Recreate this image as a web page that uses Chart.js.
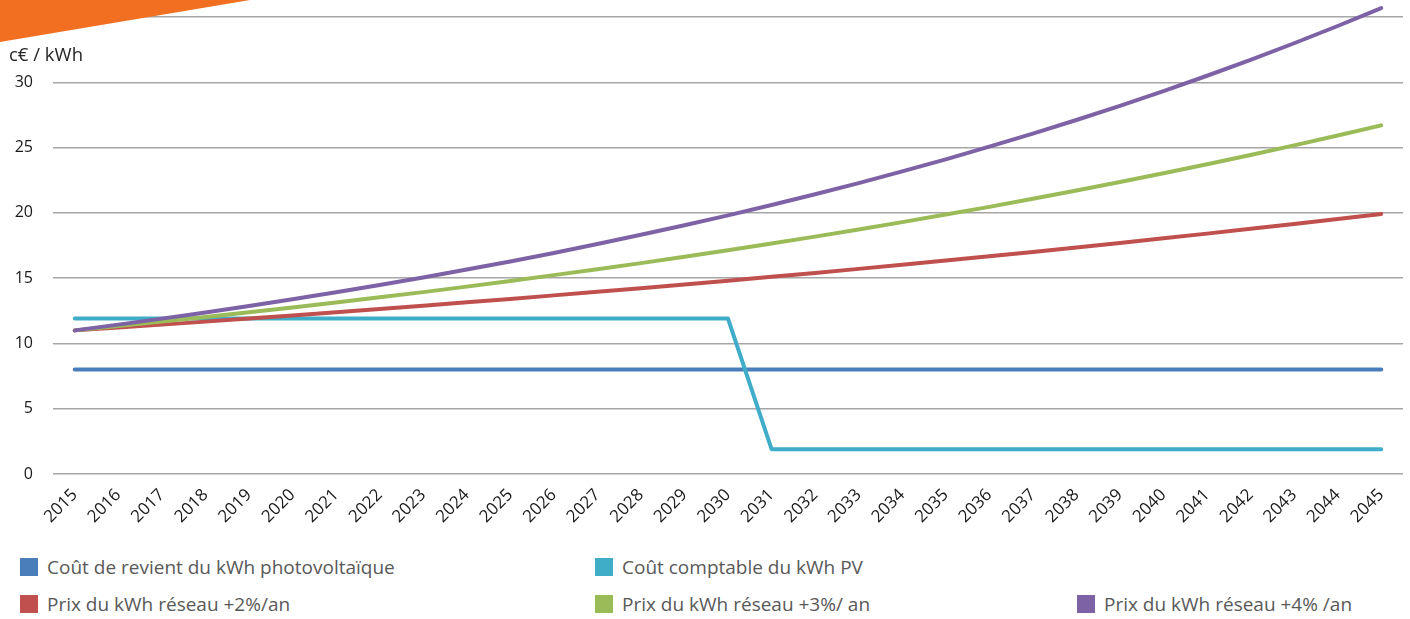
<!DOCTYPE html>
<html>
<head>
<meta charset="utf-8">
<script src="https://cdn.jsdelivr.net/npm/chart.js@4"></script>
<style>
  body { margin: 0; background: #fff; font-family: "Open Sans", "Noto Sans", sans-serif; }
  #wrap { position: relative; width: 1410px; height: 619px; overflow: hidden; }
  #box { position: absolute; left: 0; top: 0; width: 1410px; height: 531px; }
  #unit { position: absolute; left: 9px; top: 42px; font-size: 18.5px; color: #262626; line-height: 24px; }
  .leg { position: absolute; font-size: 19px; color: #595959; white-space: nowrap; line-height: 22px; }
  .leg i { position: absolute; left: -27px; top: 2px; width: 18px; height: 18px; }
</style>
</head>
<body>
<div id="wrap">
  <div id="box"><canvas id="myChart"></canvas></div>
  <div id="unit">c€ / kWh</div>
  <div id="legend"></div>
</div>
<script>
const annees = ['2015','2016','2017','2018','2019','2020','2021','2022','2023','2024','2025','2026','2027','2028','2029','2030',
  '2031','2032','2033','2034','2035','2036','2037','2038','2039','2040','2041','2042','2043','2044','2045'];

const coutRevient = [8,8,8,8,8,8,8,8,8,8,8,8,8,8,8,8,8,8,8,8,8,8,8,8,8,8,8,8,8,8,8];
const coutComptable = [11.9,11.9,11.9,11.9,11.9,11.9,11.9,11.9,11.9,11.9,11.9,11.9,11.9,11.9,11.9,11.9,
  1.9,1.9,1.9,1.9,1.9,1.9,1.9,1.9,1.9,1.9,1.9,1.9,1.9,1.9,1.9];
const reseau2 = [11.00,11.22,11.44,11.67,11.91,12.14,12.39,12.64,12.89,13.15,13.41,13.68,13.95,14.23,14.51,14.80,
  15.10,15.40,15.71,16.02,16.35,16.67,17.01,17.35,17.69,18.05,18.41,18.78,19.15,19.53,19.92];
const reseau3 = [11.00,11.33,11.67,12.02,12.38,12.75,13.13,13.53,13.93,14.35,14.78,15.23,15.68,16.15,16.64,17.14,
  17.65,18.18,18.73,19.29,19.87,20.46,21.08,21.71,22.36,23.03,23.72,24.43,25.17,25.92,26.70];
const reseau4 = [11.00,11.44,11.90,12.37,12.87,13.38,13.92,14.48,15.05,15.66,16.28,16.93,17.61,18.32,19.05,19.81,
  20.60,21.43,22.28,23.18,24.10,25.07,26.07,27.11,28.20,29.32,30.50,31.72,32.99,34.31,35.68];

const yTicks = [0, 5, 10, 15, 20, 25, 30, 35];

const noms = ['Coût de revient du kWh photovoltaïque', 'Coût comptable du kWh PV', 'Prix du kWh réseau +2%/an',
  'Prix du kWh réseau +3%/ an', 'Prix du kWh réseau +4% /an'];
const couleurs = ['#4a7ebb', '#3fadc8', '#c0504d', '#9bbb59', '#7d62a6'];

// position des entrées de légende (x du texte, y)
const legPos = [[47, 556], [622, 556], [47, 593], [622, 593], [1104, 593]];

const series = [coutRevient, coutComptable, reseau2, reseau3, reseau4];

const datasets = series.map(function (d, i) {
  return {
    label: noms[i],
    data: d,
    borderColor: couleurs[i],
    backgroundColor: couleurs[i],
    borderWidth: 4,
    borderCapStyle: 'round',
    borderJoinStyle: 'round',
    pointRadius: 0,
    tension: 0,
    clip: 20,
    order: 5 - i
  };
});

// triangle orange en haut à gauche
const coin = {
  id: 'coin',
  afterDraw(chart) {
    const c = chart.ctx;
    c.save();
    c.fillStyle = '#f26f21';
    c.beginPath();
    c.moveTo(0, 0);
    c.lineTo(250, 0);
    c.lineTo(0, 42);
    c.closePath();
    c.fill();
    c.restore();
  }
};

const ctx = document.getElementById('myChart').getContext('2d');
new Chart(ctx, {
  type: 'line',
  data: { labels: annees, datasets: datasets },
  options: {
    responsive: true,
    maintainAspectRatio: false,
    animation: false,
    layout: { autoPadding: false, padding: { left: 10, right: 7, top: 17, bottom: 0 } },
    plugins: { legend: { display: false }, tooltip: { enabled: false } },
    scales: {
      x: {
        offset: true,
        grid: { display: false },
        border: { display: false },
        afterFit(axis) { axis.height = 57; axis.paddingLeft = 0; axis.paddingRight = 0; },
        ticks: {
          autoSkip: false,
          maxRotation: 45,
          minRotation: 45,
          color: '#1a1a1a',
          font: { family: 'Open Sans', size: 17 }
        }
      },
      y: {
        min: 0,
        max: 35,
        afterBuildTicks(axis) { axis.ticks = yTicks.map(v => ({ value: v })); },
        afterFit(axis) { axis.width = 43; axis.paddingTop = 0; axis.paddingBottom = 0; },
        grid: { color: '#a6a6a6', lineWidth: 1.5, drawTicks: false },
        border: { display: false },
        ticks: {
          padding: 20,
          color: '#1a1a1a',
          font: { family: 'Open Sans', size: 16 }
        }
      }
    }
  },
  plugins: [coin]
});

const leg = document.getElementById('legend');
noms.forEach(function (n, i) {
  const d = document.createElement('div');
  d.className = 'leg';
  d.style.left = legPos[i][0] + 'px';
  d.style.top = legPos[i][1] + 'px';
  d.innerHTML = '<i style="background:' + couleurs[i] + '"></i>' + n;
  leg.appendChild(d);
});
</script>
</body>
</html>
